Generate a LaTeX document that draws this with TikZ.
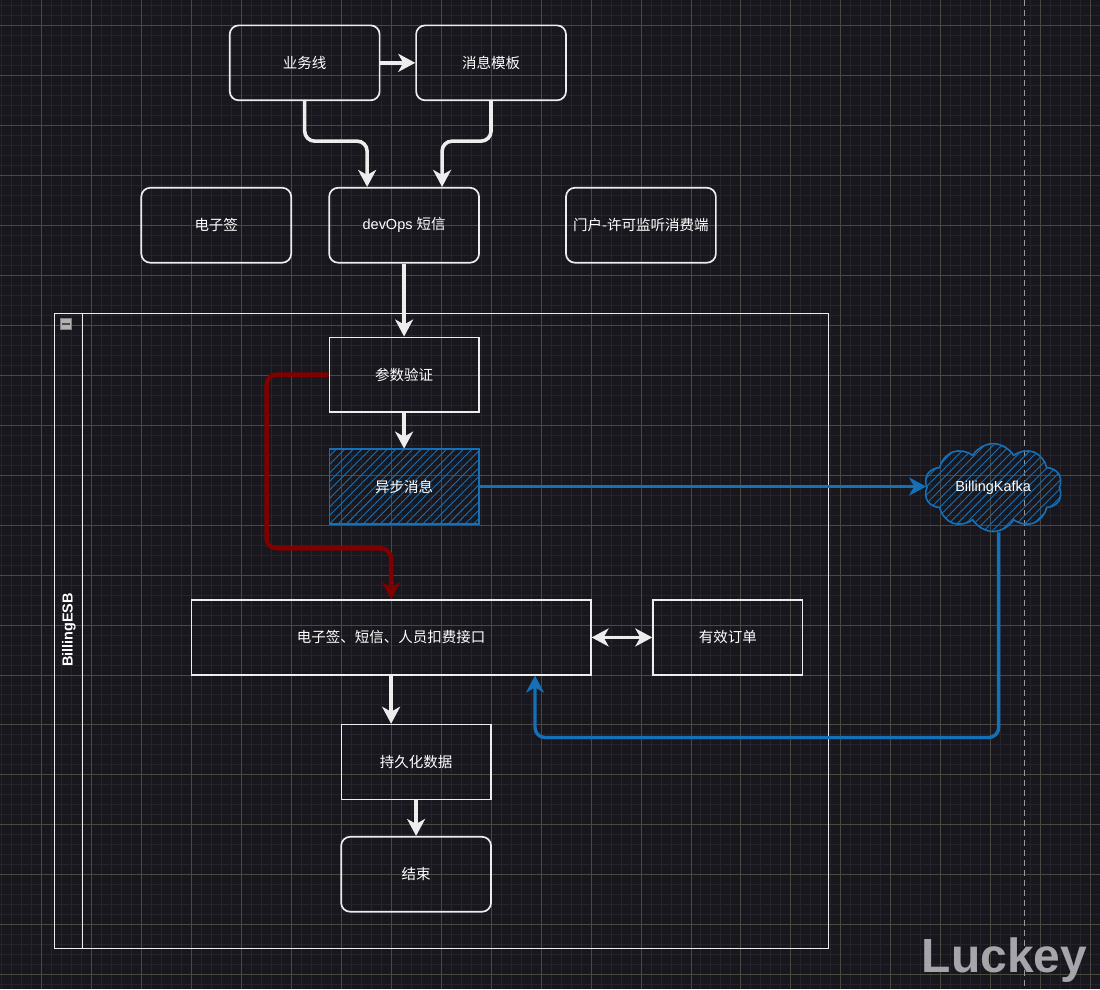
\documentclass[tikz,border=0pt]{standalone}
\usepackage{fontspec}
\setmainfont{Liberation Sans}
\newfontfamily\cjk{Noto Sans CJK SC}
\usetikzlibrary{arrows.meta,shapes.symbols,patterns.meta}

\definecolor{bgdark}{HTML}{18171D}
\definecolor{gridminor}{HTML}{25242C}
\definecolor{gridmajor}{HTML}{4A4840}
\definecolor{linewhite}{HTML}{EDEDED}
\definecolor{kafkablue}{HTML}{1570B8}
\definecolor{darkred}{HTML}{7F0000}
\definecolor{markgray}{HTML}{A6A6AA}

\begin{document}
\begin{tikzpicture}[x=1pt, y=-1pt, >={Stealth[length=17pt,width=18pt,inset=5pt]},
    box/.style={draw=linewhite, line width=1.3pt, minimum width=150pt, minimum height=75pt,
        inner sep=0pt, text=white, font=\fontsize{14.5}{17}\selectfont},
    roundbox/.style={box, line width=1.7pt, rounded corners=9pt},
    hatchbox/.style={box, draw=kafkablue, pattern={Lines[angle=45,distance=6pt,line width=0.9pt]},
        pattern color=kafkablue},
    flow/.style={draw=linewhite, line width=3.6pt, rounded corners=10pt, ->},
    blueflow/.style={flow, draw=kafkablue, line width=3.4pt},
    redflow/.style={flow, draw=darkred, line width=4.4pt}]

    % background and grid
    \fill[bgdark] (0,0) rectangle (1100,989);
    \foreach \x in {1,11,...,1100} \draw[gridminor, line width=0.8pt] (\x,0) -- (\x,989);
    \foreach \y in {5,15,...,989} \draw[gridminor, line width=0.8pt] (0,\y) -- (1100,\y);
    \foreach \x in {41,91,...,1100} \draw[gridmajor, line width=0.8pt] (\x,0) -- (\x,989);
    \foreach \y in {25,75,...,989} \draw[gridmajor, line width=0.8pt] (0,\y) -- (1100,\y);
    \useasboundingbox (0,0) rectangle (1100,989);

    % page break line
    \draw[gray!80, line width=1.5pt, dash pattern=on 6pt off 4pt] (1025,0) -- (1025,989);

    % swimlane
    \node[draw=linewhite, line width=1.3pt, minimum width=775pt, minimum height=636pt] (esb) at (441.5,631) {};
    \draw[linewhite, line width=1.3pt] ([xshift=29pt]esb.north west) -- ([xshift=29pt]esb.south west);
    \node[rotate=90, text=white, font=\bfseries\fontsize{14.5}{17}\selectfont] (esblabel) at (68.5,630) {BillingESB};
    \node[draw=gray, fill=gray!60, minimum size=11pt, inner sep=0pt] (fold) at (65.5,323.5) {};
    \draw[black!70, line width=1.8pt] ([xshift=2pt]fold.west) -- ([xshift=-2pt]fold.east);

    % top boxes
    \node[roundbox] (ywx) at (304.5,62.5) {\cjk 业务线};
    \node[roundbox] (xxmb) at (491,62.5) {\cjk 消息模板};
    \node[roundbox] (dzq) at (216,225) {\cjk 电子签};
    \node[roundbox] (devops) at (404,225) {devOps {\cjk 短信}};
    \node[roundbox] (mhjt) at (641,225) {\cjk 门户-许可监听消费端};

    % boxes in the lane
    \node[box] (csyz) at (404,374.5) {\cjk 参数验证};
    \node[hatchbox] (ybxx) at (404,486.5) {\cjk 异步消息};
    \node[box, minimum width=400pt] (jk) at (391,637.5) {\cjk 电子签、短信、人员扣费接口};
    \node[box] (yxdd) at (728,637.5) {\cjk 有效订单};
    \node[box] (cjh) at (416,762) {\cjk 持久化数据};
    \node[roundbox] (js) at (416,874.5) {\cjk 结束};

    % kafka
    \node[cloud, cloud puffs=10, cloud puff arc=120, aspect=1.55, draw=kafkablue, line width=1.6pt,
        minimum width=138pt, minimum height=88pt, inner sep=0pt, text=white,
        font=\fontsize{14.5}{17}\selectfont,
        pattern={Lines[angle=45,distance=6pt,line width=0.9pt]}, pattern color=kafkablue]
        (kafka) at (993.5,487.5) {BillingKafka};

    % watermark
    \node[anchor=base west, inner sep=0pt, text=markgray, font=\bfseries\fontsize{48}{50}\selectfont]
        (mark) at (922,973) {Luckey};

    % top flows
    \draw[flow] (ywx.east) -- (xxmb.west);
    \draw[flow] (ywx.south) -- ++(0,40) -| ([xshift=-37pt]devops.north);
    \draw[flow] (xxmb.south) -- ++(0,40) -| ([xshift=38pt]devops.north);
    \draw[flow] (devops.south) -- (csyz.north);

    % lane flows
    \draw[flow] (csyz.south) -- (ybxx.north);
    \draw[redflow] (csyz.west) -- ++(-62,0) |- ([yshift=51pt]jk.north) -- (jk.north);
    \draw[blueflow] (ybxx.east) -- (ybxx.east -| kafka.west);
    \draw[blueflow] ([xshift=5.5pt]kafka.south) |- ([xshift=144pt,yshift=-62pt]jk.south)
        -- ([xshift=144pt]jk.south);
    \draw[flow, <->] (jk.east) -- (yxdd.west);
    \draw[flow] (jk.south) -- (jk.south |- cjh.north);
    \draw[flow] (cjh.south) -- (js.north);
\end{tikzpicture}
\end{document}
